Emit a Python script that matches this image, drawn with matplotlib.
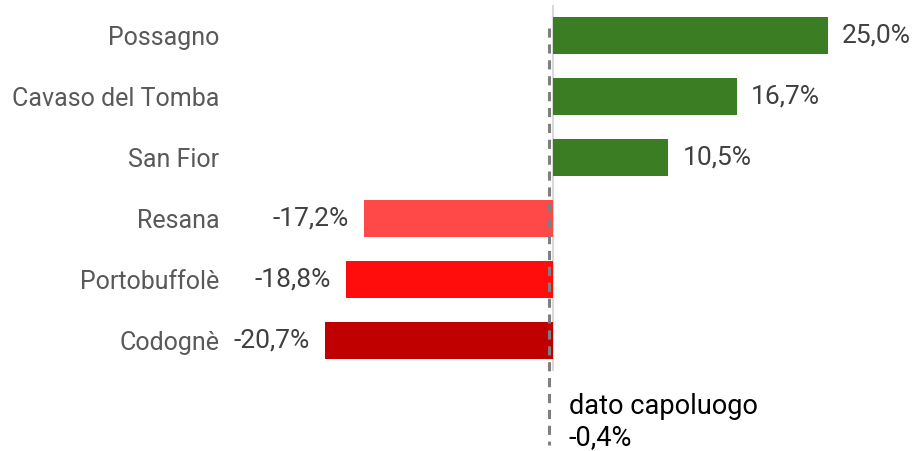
import numpy as np
import matplotlib.pyplot as plt
import matplotlib.transforms as mtransforms

# dati: variazione percentuale per comune
comuni = ["Possagno", "Cavaso del Tomba", "San Fior", "Resana", "Portobuffolè", "Codognè"]
variazione = [25.0, 16.7, 10.5, -17.2, -18.8, -20.7]
colori = ["#3B7D23", "#3B7D23", "#3B7D23", "#FF4949", "#FF0D0D", "#C00000"]
capoluogo = -0.4

plt.rcParams["font.family"] = ["Roboto", "DejaVu Sans"]

fig = plt.figure(figsize=(9.19, 4.51), dpi=100)
ax = fig.add_axes([225 / 919, 80 / 451, 694 / 919, 366 / 451])

y = np.arange(len(comuni))
ax.barh(y, variazione, height=0.62, color=colori)
ax.set_ylim(len(comuni) - 0.5, -0.5)
ax.set_xlim(-29.8, 33.27)

# asse dello zero
ax.axvline(0, color="#D9D9D9", lw=1.5, zorder=0)

# etichette dei valori
for yi, v in zip(y, variazione):
    txt = f"{v:.1f}%".replace(".", ",")
    if v >= 0:
        ax.annotate(txt, (v, yi), xytext=(10, 0), textcoords="offset points",
                    ha="left", va="center", fontsize=19, color="#404040")
    else:
        ax.annotate(txt, (v, yi), xytext=(-11, 0), textcoords="offset points",
                    ha="right", va="center", fontsize=19, color="#404040")

ax.set_yticks(y)
ax.set_yticklabels(comuni, fontsize=18, color="#595959")
ax.tick_params(axis="y", length=0, pad=4)
ax.set_xticks([])
for s in ax.spines.values():
    s.set_visible(False)

# linea del dato capoluogo
trans = mtransforms.blended_transform_factory(ax.transData, ax.transAxes)
ax.plot([capoluogo, capoluogo], [0.937, -0.202], transform=trans, clip_on=False,
        color="#7F7F7F", lw=2.2, dashes=(3, 2.2))
etichetta = "dato capoluogo\n" + f"{capoluogo:.1f}%".replace(".", ",")
ax.text(capoluogo, -0.06, etichetta, transform=trans + mtransforms.ScaledTranslation(20 / 100, 0, fig.dpi_scale_trans),
        ha="left", va="top", fontsize=19.5, color="black", linespacing=1.2)

fig.savefig("out.png", dpi=100)
